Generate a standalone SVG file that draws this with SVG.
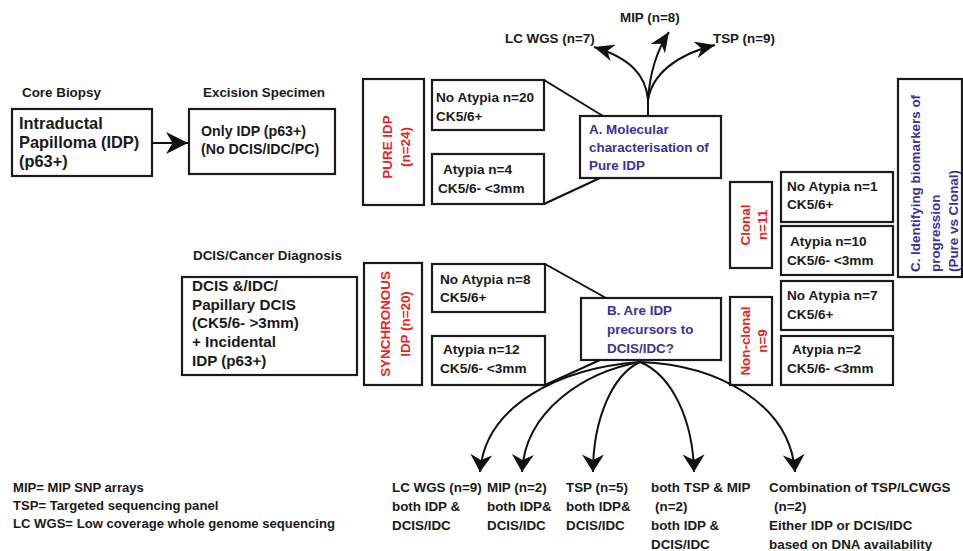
<svg xmlns="http://www.w3.org/2000/svg" width="963" height="551" viewBox="0 0 963 551">
<style>
text{font-family:"Liberation Sans",Arial,sans-serif;font-weight:bold;font-size:13.4px;fill:#1a1a1a}
.box{fill:#fff;stroke:#1a1a1a;stroke-width:2.2}
.red{fill:#e3261f}
.blue{fill:#3b3199}
.ln{fill:none;stroke:#111;stroke-width:2}
.b16{font-size:16.4px}
.b14{font-size:14.2px}
.b15{font-size:15.2px}
.s{font-size:13.6px}
.lg{font-size:13.1px}
</style>
<defs>
<marker id="big" markerUnits="userSpaceOnUse" markerWidth="22" markerHeight="22" viewBox="0 0 20 20" refX="20" refY="10" orient="auto"><path d="M0,0 L20,10 L0,20 L6,10 Z" fill="#111"/></marker>
<marker id="cur" markerUnits="userSpaceOnUse" markerWidth="18" markerHeight="22" viewBox="0 0 16 20" refX="16" refY="10" orient="auto"><path d="M0,0 L16,10 L0,20 L5,10 Z" fill="#111"/></marker>
<marker id="top" markerUnits="userSpaceOnUse" markerWidth="20" markerHeight="17" viewBox="0 0 20 17" refX="20" refY="8.5" orient="auto"><path d="M0,0 L20,8.5 L0,17 L6,8.5 Z" fill="#111"/></marker>
</defs>

<text x="22" y="97">Core Biopsy</text>
<text x="203" y="97">Excision Specimen</text>
<text x="193" y="260">DCIS/Cancer Diagnosis</text>

<g id="core"><rect class="box" x="12" y="109" width="140" height="67"/>
<text class="b16" x="19" y="129">Intraductal</text><text class="b16" x="19" y="148">Papilloma (IDP)</text><text class="b16" x="19" y="167">(p63+)</text></g>

<g id="excision"><rect class="box" x="189" y="109" width="146" height="65"/>
<text class="b14" x="201" y="136">Only IDP (p63+)</text><text class="b14" x="201" y="154">(No DCIS/IDC/PC)</text></g>

<g id="pure"><rect class="box" x="363" y="79" width="61" height="126"/>
<text class="red" transform="translate(392,147) rotate(-90)" text-anchor="middle">PURE IDP</text>
<text class="red" transform="translate(410,147) rotate(-90)" text-anchor="middle">(n=24)</text></g>

<g id="pure-noatypia"><rect class="box" x="432" y="80" width="112" height="50"/>
<text class="s" x="436" y="102">No Atypia n=20</text><text class="s" x="436" y="121">CK5/6+</text></g>
<g id="pure-atypia"><rect class="box" x="432" y="154" width="112" height="50"/>
<text class="s" x="443" y="174">Atypia n=4</text><text class="s" x="438" y="193">CK5/6- &lt;3mm</text></g>

<g id="boxA"><rect class="box" x="580" y="116" width="141" height="62"/>
<text class="blue" x="589" y="134">A. Molecular</text><text class="blue" x="589" y="152">characterisation of</text><text class="blue" x="589" y="170">Pure IDP</text></g>

<g id="topLC"><text x="505" y="43">LC WGS (n=7)</text></g>
<g id="topMIP"><text x="620" y="22">MIP (n=8)</text></g>
<g id="topTSP"><text x="713" y="43">TSP (n=9)</text></g>

<g id="boxC"><rect class="box" x="898" y="79" width="64" height="198"/>
<text class="blue" transform="translate(920,272) rotate(-90)">C. Identifying biomarkers of</text>
<text class="blue" transform="translate(940,272) rotate(-90)">progression</text>
<text class="blue" transform="translate(958,272) rotate(-90)">(Pure vs Clonal)</text></g>

<g id="clonal"><rect class="box" x="730" y="182" width="42" height="86"/>
<text class="red" transform="translate(750,225) rotate(-90)" text-anchor="middle">Clonal</text>
<text class="red" transform="translate(767,225) rotate(-90)" text-anchor="middle">n=11</text></g>
<g id="nonclonal"><rect class="box" x="730" y="297" width="42" height="88"/>
<text class="red" transform="translate(750,341) rotate(-90)" text-anchor="middle">Non-clonal</text>
<text class="red" transform="translate(767,341) rotate(-90)" text-anchor="middle">n=9</text></g>

<g id="cl-noatypia"><rect class="box" x="781" y="172" width="112" height="50"/>
<text class="s" x="787" y="191">No Atypia n=1</text><text class="s" x="787" y="209">CK5/6+</text></g>
<g id="cl-atypia"><rect class="box" x="781" y="226" width="112" height="49"/>
<text class="s" x="790" y="246">Atypia n=10</text><text class="s" x="787" y="265">CK5/6- &lt;3mm</text></g>
<g id="nc-noatypia"><rect class="box" x="781" y="281" width="112" height="49"/>
<text class="s" x="787" y="300">No Atypia n=7</text><text class="s" x="787" y="319">CK5/6+</text></g>
<g id="nc-atypia"><rect class="box" x="781" y="336" width="112" height="49"/>
<text class="s" x="792" y="354">Atypia n=2</text><text class="s" x="787" y="373">CK5/6- &lt;3mm</text></g>

<g id="dcis"><rect class="box" x="182" y="277" width="175" height="98"/>
<text class="b15" x="192" y="291">DCIS &amp;/IDC/</text><text class="b15" x="192" y="310">Papillary DCIS</text><text class="b15" x="192" y="328">(CK5/6- &gt;3mm)</text><text class="b15" x="192" y="347">+ Incidental</text><text class="b15" x="192" y="366">IDP (p63+)</text></g>

<g id="sync"><rect class="box" x="364" y="263" width="58" height="122"/>
<text class="red" transform="translate(390,324) rotate(-90)" text-anchor="middle">SYNCHRONOUS</text>
<text class="red" transform="translate(410,324) rotate(-90)" text-anchor="middle">IDP  (n=20)</text></g>

<g id="sy-noatypia"><rect class="box" x="432" y="264" width="113" height="48"/>
<text class="s" x="440" y="284">No Atypia n=8</text><text class="s" x="440" y="302">CK5/6+</text></g>
<g id="sy-atypia"><rect class="box" x="432" y="336" width="113" height="49"/>
<text class="s" x="443" y="354">Atypia n=12</text><text class="s" x="440" y="373">CK5/6- &lt;3mm</text></g>

<g id="boxB"><rect class="box" x="581" y="298" width="140" height="62"/>
<text class="blue" x="607" y="315">B. Are IDP</text><text class="blue" x="607" y="334">precursors to</text><text class="blue" x="607" y="353">DCIS/IDC?</text></g>

<g id="out1"><text x="392" y="492">LC WGS (n=9)</text><text x="392" y="511">both IDP &amp;</text><text x="392" y="530">DCIS/IDC</text></g>
<g id="out2"><text x="487" y="492">MIP (n=2)</text><text x="487" y="511">both IDP&amp;</text><text x="487" y="530">DCIS/IDC</text></g>
<g id="out3"><text x="566" y="492">TSP (n=5)</text><text x="566" y="511">both IDP&amp;</text><text x="566" y="530">DCIS/IDC</text></g>
<g id="out4"><text x="651" y="492">both TSP &amp; MIP</text><text x="655" y="511">(n=2)</text><text x="651" y="530">both IDP &amp;</text><text x="651" y="549">DCIS/IDC</text></g>
<g id="out5"><text x="769" y="492">Combination of TSP/LCWGS</text><text x="774" y="511">(n=2)</text><text x="769" y="530">Either IDP or DCIS/IDC</text><text x="769" y="549">based on DNA availability</text></g>

<g id="legend"><text class="lg" x="13" y="492">MIP= MIP SNP arrays</text><text class="lg" x="13" y="510">TSP= Targeted sequencing panel</text><text class="lg" x="13" y="528">LC WGS= Low coverage whole genome sequencing</text></g>

<g id="connectors">
<path class="ln" d="M152,143 L188,143" marker-end="url(#big)"/>
<path class="ln" d="M544,80 L603,116"/>
<path class="ln" d="M544,204 L600,178"/>
<path class="ln" d="M545,264 L606,298"/>
<path class="ln" d="M545,385 L600,360"/>
<path class="ln" d="M648,116 L648,100 C646,75 630,58 594,47" marker-end="url(#top)"/>
<path class="ln" d="M648,100 C650,70 657,50 669,32" marker-end="url(#top)"/>
<path class="ln" d="M648,100 C652,75 675,55 715,45" marker-end="url(#top)"/>
<path class="ln" d="M640,362 C560,368 485,405 480,472" marker-end="url(#cur)"/>
<path class="ln" d="M640,362 C585,372 525,410 522,472" marker-end="url(#cur)"/>
<path class="ln" d="M640,362 C612,375 593,420 593,472" marker-end="url(#cur)"/>
<path class="ln" d="M640,362 C672,375 693,420 694,472" marker-end="url(#cur)"/>
<path class="ln" d="M640,362 C720,365 790,405 795,472" marker-end="url(#cur)"/>
</g>
</svg>
